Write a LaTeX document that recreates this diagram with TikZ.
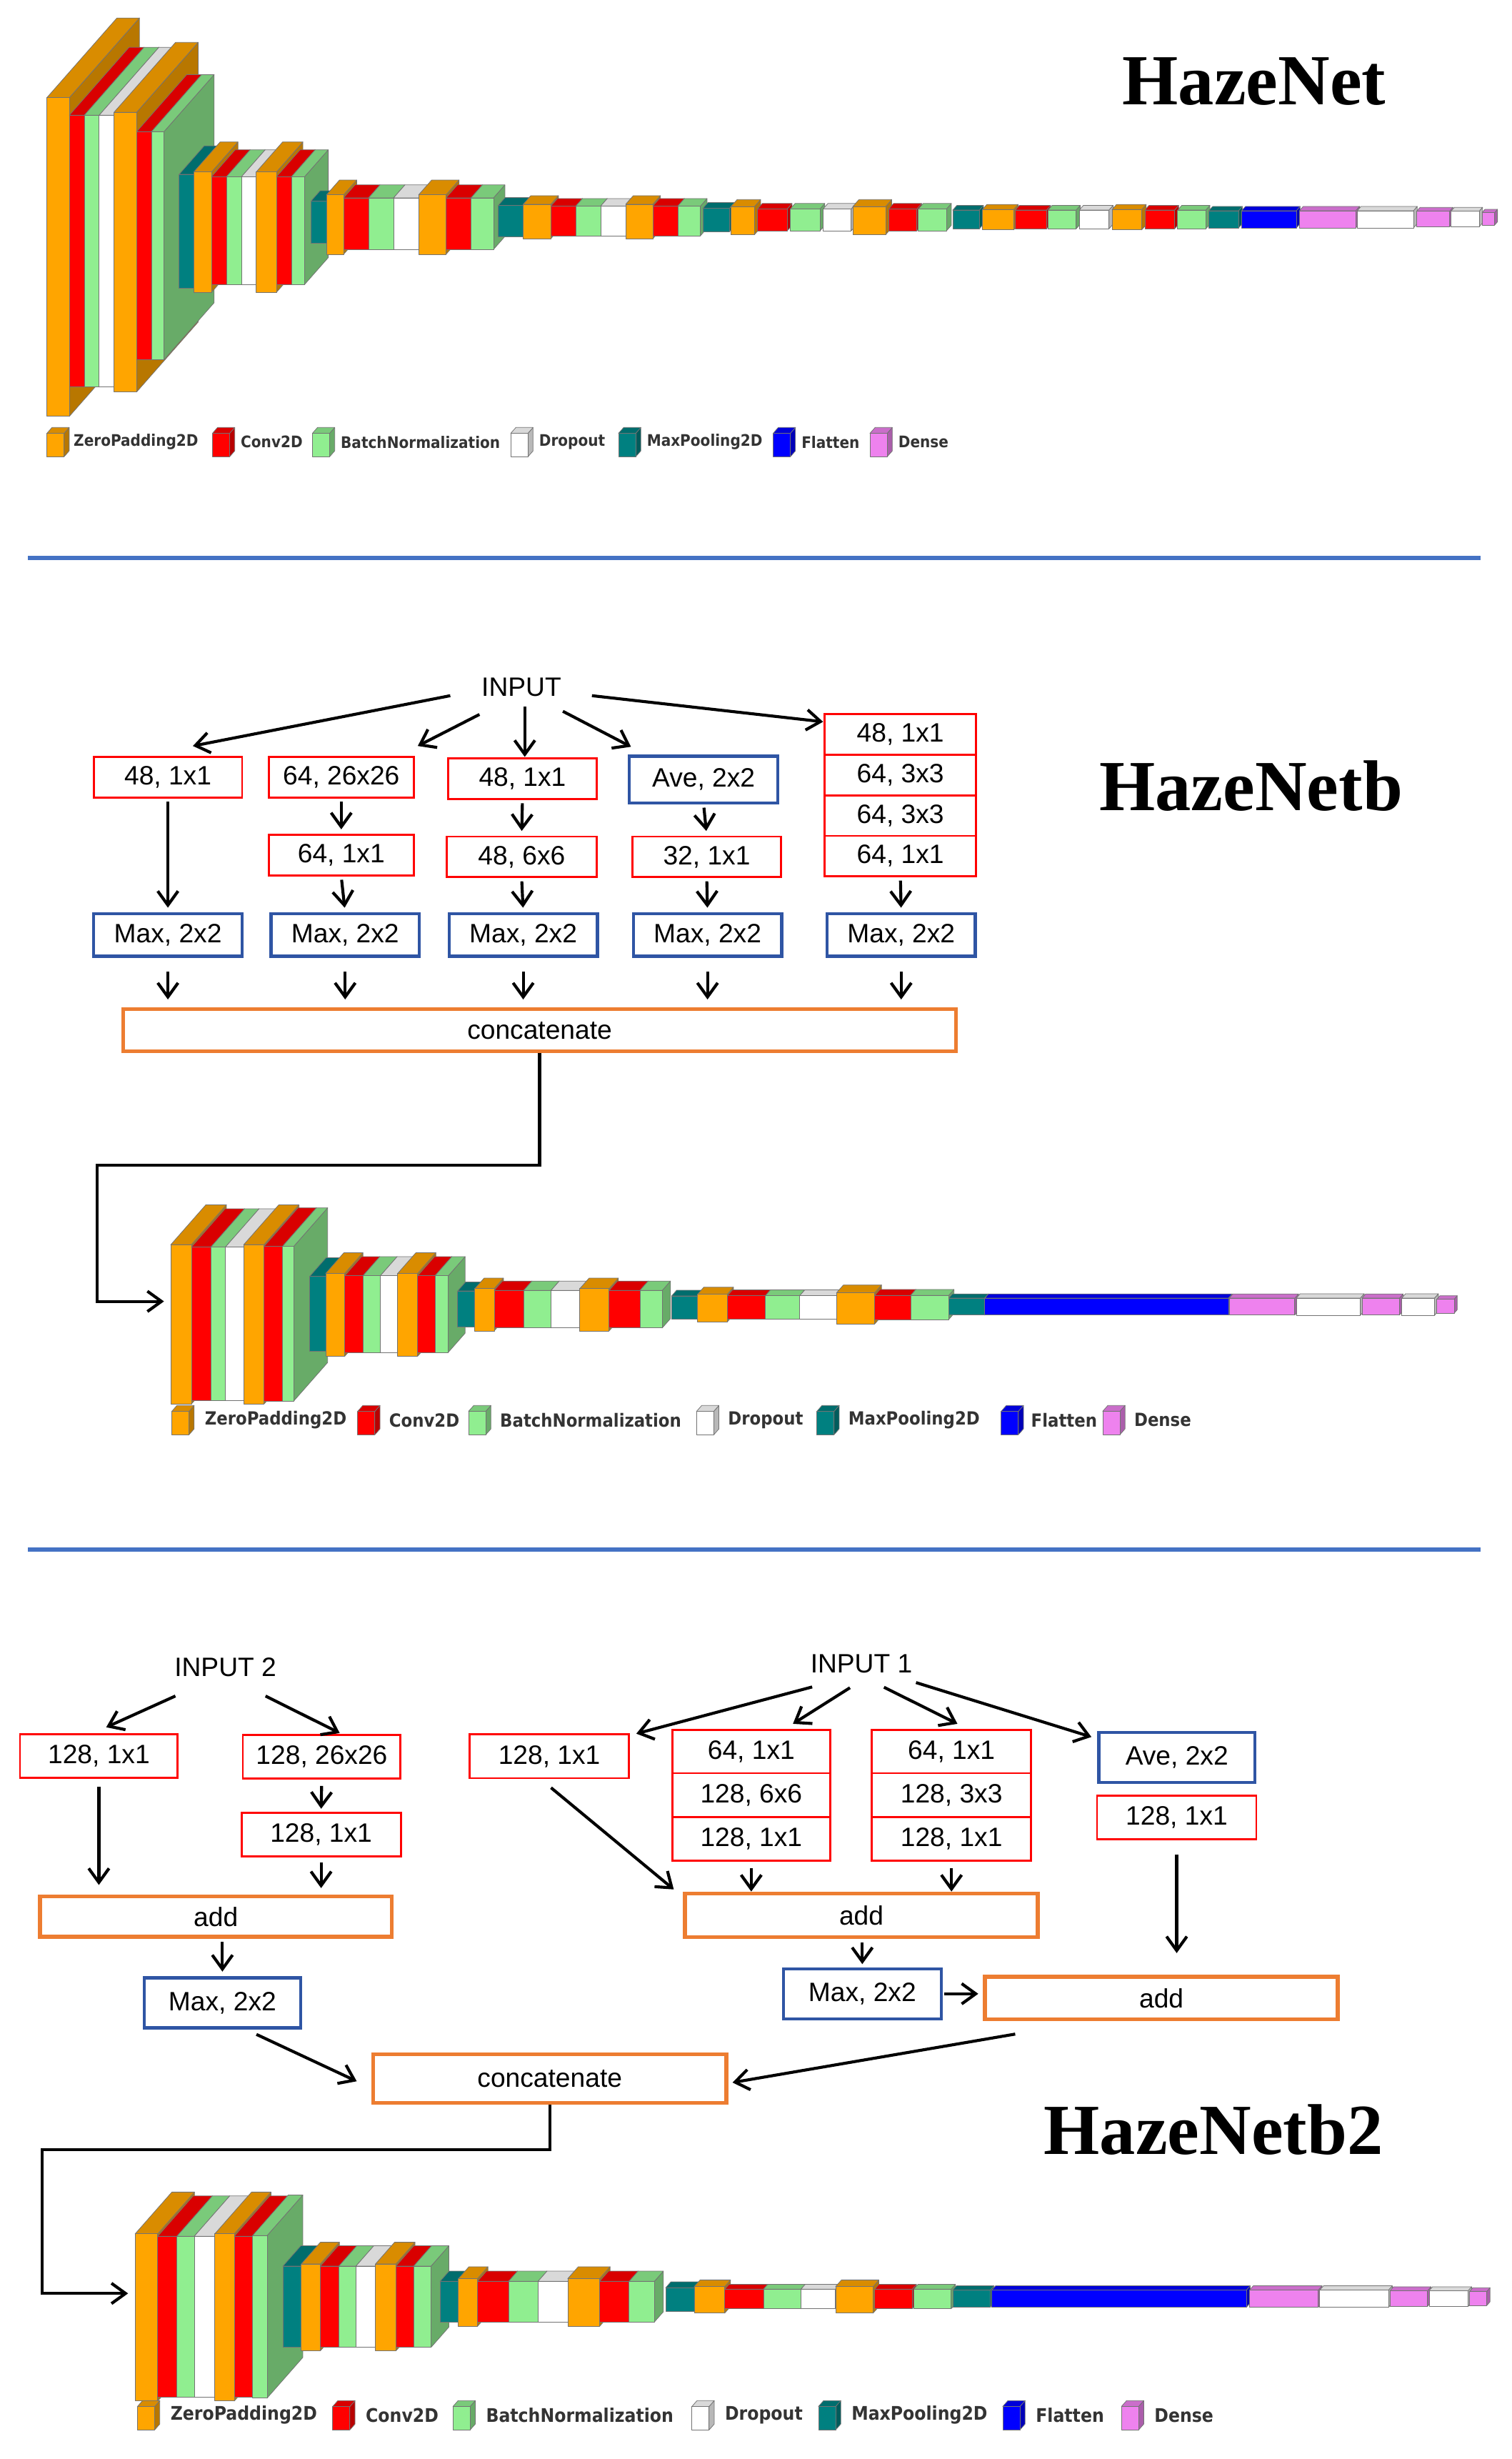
\documentclass[tikz,border=0pt]{standalone}
\usepackage{fontspec}
\setmainfont{Liberation Sans}
\newfontfamily\titf{Liberation Serif}
\newfontfamily\legf{DejaVu Sans Condensed}
\usetikzlibrary{arrows.meta,calc}
\definecolor{zp}{RGB}{255,165,0}
\definecolor{cv}{RGB}{255,0,0}
\definecolor{bn}{RGB}{144,238,144}
\definecolor{dp}{RGB}{255,255,255}
\definecolor{mp}{RGB}{0,128,128}
\definecolor{fl}{RGB}{0,0,255}
\definecolor{de}{RGB}{238,130,238}
\definecolor{sep}{RGB}{68,114,196}
\definecolor{bbx}{RGB}{47,85,164}
\definecolor{obx}{RGB}{237,125,49}
\tikzset{
 lay/.style={draw=black!55,line width=0.35pt,line join=round},
 box/.style={draw,fill=white,inner sep=0pt,font=\fontsize{17}{20}\selectfont,minimum height=26pt},
 rbox/.style={box,draw=red,line width=1.3pt},
 bbox/.style={box,draw=bbx,line width=2pt},
 obox/.style={box,draw=obx,line width=2.5pt},
 arr/.style={-{Straight Barb[length=9pt,width=13pt]},line width=1.9pt},
 title/.style={font=\titf\bfseries\fontsize{46}{50}\selectfont},
 lbl/.style={font=\fontsize{17}{20}\selectfont,inner sep=1pt},
 legt/.style={anchor=west,inner sep=0pt,font=\legf\bfseries\fontsize{#1}{#1}\selectfont,text=black!80},
}
\newcommand\lay[5]{%
 \pgfmathsetmacro\Lyt{#5+0.125*#4-0.5*#4}%
 \pgfmathsetmacro\Lyb{\Lyt+#4}%
 \pgfmathsetmacro\Ldx{0.22*#4}%
 \pgfmathsetmacro\Ldy{-0.25*#4}%
 \pgfmathsetmacro\Lxr{#2+#3}%
 \filldraw[lay,fill=#1!72!black] (\Lxr,\Lyt) -- ++(\Ldx,\Ldy) -- ++(0,#4) -- (\Lxr,\Lyb) -- cycle;
 \filldraw[lay,fill=#1!85!black] (#2,\Lyt) -- ++(\Ldx,\Ldy) -- ++(#3,0) -- (\Lxr,\Lyt) -- cycle;
 \filldraw[lay,fill=#1] (#2,\Lyt) rectangle (\Lxr,\Lyb);}
\newcommand\legend[3]{%
 \foreach \cx/\tx/\cc/\tt in {#3}{%
   \lay{\cc}{\cx}{11}{15}{#1}
   \node[legt=#2] at (\tx,#1) {\tt};}}
\begin{document}
\begin{tikzpicture}[x=1pt,y=-1pt]
\useasboundingbox (0,0) rectangle (968,1574);
\fill[white] (0,0) rectangle (968,1574);

% ===== HazeNet =====
\foreach \c/\x/\w/\h in {zp/30/14.4/204, cv/44.4/9.6/174, bn/54/9.5/174, dp/63.5/9.5/174, zp/73/14.5/179, cv/87.5/9.5/146, bn/97/8/146,
 mp/114.7/9.3/73, zp/124/11.4/77, cv/135.4/9.6/69, bn/145/9.6/69, dp/154.6/9.4/69, zp/164/13/77, cv/177/9.6/69, bn/186.6/8.4/69,
 mp/199/10/27, zp/209/11/38, cv/220/16/33, bn/236/16/33, dp/252/16/33, zp/268/17.6/38, cv/285.6/16/33, bn/301.6/14.4/33,
 mp/319/16/20, zp/335/17.7/22, cv/352.7/16/19, bn/368.7/15.9/19, dp/384.6/16/19, zp/400.6/17.4/22, cv/418/16/19, bn/434/14.5/19,
 mp/450/17/15, zp/468/15/18, cv/485/19/14, bn/506/19/14, dp/527/18/14, zp/546/21/18, cv/569/18/14, bn/588/18/14,
 mp/610/17/12, zp/629/20/13, cv/650/20/12, bn/671/18/12, dp/691/19/12, zp/712/19/13, cv/733/19/12, bn/754/18/12,
 mp/774/19/11, fl/795/35/11, de/832/36/11, dp/869/36/11, de/907/21/10, dp/929/18/10, de/949/8/8}
 {\lay{\c}{\x}{\w}{\h}{139}}
\legend{283}{10.2}{30/47/zp/ZeroPadding2D, 136/154/cv/Conv2D, 200/218/bn/BatchNormalization, 327/345/dp/Dropout, 396/414/mp/MaxPooling2D, 495/513/fl/Flatten, 557/575/de/Dense}
\node[title] (t1) at (803,52) {HazeNet};

\draw[sep,line width=2.6pt] (18,357) -- (948,357);

% ===== HazeNetb =====
\node[lbl] (inp) at (333.8,440) {INPUT};
\node[title] (t2) at (801,503) {HazeNetb};
\node[rbox,minimum width=95pt] (a1) at (107.5,497.5) {48, 1x1};
\node[rbox,minimum width=93pt] (a2) at (218.5,497.5) {64, 26x26};
\node[rbox,minimum width=93pt] (a3) at (218.5,547.5) {64, 1x1};
\node[rbox,minimum width=95pt] (a4) at (334.5,498.5) {48, 1x1};
\node[rbox,minimum width=96pt] (a5) at (334,548.5) {48, 6x6};
\node[bbox,minimum width=95pt,minimum height=30pt] (a6) at (450.5,499) {Ave, 2x2};
\node[rbox,minimum width=95pt] (a7) at (452.5,548.5) {32, 1x1};
\node[rbox,minimum width=97pt] (a8) at (576.5,470) {48, 1x1};
\node[rbox,minimum width=97pt] (a9) at (576.5,496) {64, 3x3};
\node[rbox,minimum width=97pt] (a10) at (576.5,522) {64, 3x3};
\node[rbox,minimum width=97pt] (a11) at (576.5,548) {64, 1x1};
\foreach \n/\x in {m1/107.5,m2/221,m3/335,m4/453,m5/577}
  \node[bbox,minimum width=95pt,minimum height=27pt] (\n) at (\x,598.5) {Max, 2x2};
\node[obox,minimum width=533pt,minimum height=27pt] (cc1) at (345.5,659.5) {concatenate};

\draw[arr] ([shift={(-45.5,5.3)}]inp.center) -- ([shift={(16,-20)}]a1.center);
\draw[arr] ([shift={(-26.8,17.3)}]inp.center) -- ([shift={(49,-20)}]a2.center);
\draw[arr] ([shift={(2.2,12.3)}]inp.center) -- ([shift={(1.5,-14)}]a4.center);
\draw[arr] ([shift={(26.6,15.3)}]inp.center) -- ([shift={(-46.5,-21)}]a6.center);
\draw[arr] ([shift={(45.2,5.3)}]inp.center) -- ([shift={(-49.5,-8)}]a8.center);
\foreach \p/\q in {a1/m1,a2/a3,a3/m2,a4/a5,a5/m3,a6/a7,a7/m4,a11/m5}
  \draw[arr,shorten <=2pt,shorten >=3pt] (\p.south) -- (\q.north);
\foreach \m in {m1,m2,m3,m4,m5}
  \draw[arr,shorten <=9pt,shorten >=5pt] (\m.south) -- (\m.south |- cc1.north);
\coordinate (n2in) at (105,833);
\draw[arr] (cc1.south) -- (345.5,746) -- (62,746) -- (62,833) -- (n2in);

% net 2
\foreach \c/\x/\w/\h in {zp/109.3/13.2/102, cv/122.5/12.5/98, bn/135/9.3/98, dp/144.3/11.7/98, zp/156/13/102, cv/169/11.8/99, bn/180.8/7.2/99,
 mp/198.3/10.2/48, zp/208.5/12.2/53, cv/220.7/11.7/49, bn/232.4/11.1/49, dp/243.5/11.1/49, zp/254.6/12.8/53, cv/267.4/11.1/49, bn/278.5/8.5/49,
 mp/293/11/23, zp/304/12.4/27, cv/316.4/18.9/24, bn/335.3/17.5/24, dp/352.8/18.4/24, zp/371.2/18.8/27, cv/390/19.7/24, bn/409.7/14.3/24,
 mp/430/16.7/14.6, zp/446.7/19/17.7, cv/465.7/24.3/15, bn/490/22/15, dp/512/23.6/15, zp/535.6/24.4/20, cv/560/23/15.4, bn/583/24.4/15.4,
 mp/607.4/23/10.8, fl/630.5/156/10.8, de/787/42/10.8, dp/830/41/11, de/872/24/10.8, dp/897.5/21/11, de/920/11/9}
 {\lay{\c}{\x}{\w}{\h}{835}}
\legend{909}{11.6}{110/131/zp/ZeroPadding2D, 229/249/cv/Conv2D, 300/320/bn/BatchNormalization, 446/466/dp/Dropout, 523/543/mp/MaxPooling2D, 641/660/fl/Flatten, 706/726/de/Dense}

\draw[sep,line width=2.6pt] (18,992) -- (948,992);

% ===== HazeNetb2 =====
\node[title] (t3) at (777,1363) {HazeNetb2};
\node[lbl] (in2) at (144.3,1067) {INPUT 2};
\node[lbl] (in1) at (551.5,1065) {INPUT 1};
\node[rbox,minimum width=101pt,minimum height=28pt] (b1) at (63.3,1124) {128, 1x1};
\node[rbox,minimum width=101pt,minimum height=28pt] (b2) at (206,1124.5) {128, 26x26};
\node[rbox,minimum width=102pt,minimum height=28pt] (b3) at (205.6,1174.4) {128, 1x1};
\node[obox,minimum width=225pt,minimum height=26pt] (ad1) at (138.2,1226.8) {add};
\node[bbox,minimum width=100pt,minimum height=32pt] (mx1) at (142.4,1282) {Max, 2x2};
\node[obox,minimum width=226pt,minimum height=31pt] (cc2) at (352,1330.5) {concatenate};
\node[rbox,minimum width=102pt,minimum height=28pt] (b4) at (351.7,1124.2) {128, 1x1};
\node[rbox,minimum width=101pt,minimum height=28pt] (sa1) at (481,1121.2) {64, 1x1};
\node[rbox,minimum width=101pt,minimum height=28pt] (sa2) at (481,1149) {128, 6x6};
\node[rbox,minimum width=101pt,minimum height=28pt] (sa3) at (481,1177) {128, 1x1};
\node[rbox,minimum width=102pt,minimum height=28pt] (sb1) at (609.2,1121.2) {64, 1x1};
\node[rbox,minimum width=102pt,minimum height=28pt] (sb2) at (609.2,1149) {128, 3x3};
\node[rbox,minimum width=102pt,minimum height=28pt] (sb3) at (609.2,1177) {128, 1x1};
\node[bbox,minimum width=100pt,minimum height=32pt] (av2) at (753.5,1124.9) {Ave, 2x2};
\node[rbox,minimum width=102pt,minimum height=28pt] (b5) at (753.4,1163.4) {128, 1x1};
\node[obox,minimum width=226pt,minimum height=28pt] (ad2) at (551.5,1226) {add};
\node[bbox,minimum width=101pt,minimum height=32pt] (mx2) at (552.1,1276.2) {Max, 2x2};
\node[obox,minimum width=226pt,minimum height=27pt] (ad3) at (743.6,1278.9) {add};

\draw[arr] ([shift={(-32,18.6)}]in2.center) -- ([shift={(4.7,-18.4)}]b1.center);
\draw[arr] ([shift={(25.7,18.6)}]in2.center) -- ([shift={(11.5,-15.2)}]b2.center);
\draw[arr,shorten <=5pt,shorten >=6pt] (b1.south) -- (b1.south |- ad1.north);
\draw[arr,shorten <=4pt,shorten >=2pt] (b2.south) -- (b3.north);
\draw[arr,shorten <=3pt,shorten >=4pt] (b3.south) -- (b3.south |- ad1.north);
\draw[arr,shorten <=2pt,shorten >=3pt] (ad1.south -| mx1.north) -- (mx1.north);
\draw[arr] ([shift={(21.8,20.2)}]mx1.center) -- ([shift={(-123.6,1.7)}]cc2.center);

\draw[arr] ([shift={(-31.5,14.8)}]in1.center) -- ([shift={(55.7,-14.5)}]b4.center);
\draw[arr] ([shift={(-7.3,15.3)}]in1.center) -- ([shift={(26.7,-17.8)}]sa1.center);
\draw[arr] ([shift={(14.5,15)}]in1.center) -- ([shift={(3.8,-17.8)}]sb1.center);
\draw[arr] ([shift={(35,12)}]in1.center) -- ([shift={(-54.7,-13.1)}]av2.center);
\draw[arr] ([shift={(1.1,20.1)}]b4.center) -- ([shift={(-120.1,-16.6)}]ad2.center);
\draw[arr,shorten <=4pt] (sa3.south) -- (sa3.south |- ad2.north);
\draw[arr,shorten <=4pt] (sb3.south) -- (sb3.south |- ad2.north);
\draw[arr,shorten <=9pt,shorten >=14pt] (b5.south) -- (b5.south |- ad3.north);
\draw[arr,shorten <=2pt,shorten >=2pt] (ad2.south -| mx2.north) -- (mx2.north);
\draw[arr,shorten <=1pt,shorten >=3pt] (mx2.east) -- (mx2.east -| ad3.west);
\draw[arr] ([shift={(-93.6,23.1)}]ad3.center) -- ([shift={(117,2.5)}]cc2.center);

\coordinate (n3in) at (82,1468);
\draw[arr] (cc2.south) -- (352,1376) -- (27,1376) -- (27,1468) -- (n3in);

% net 3
\foreach \c/\x/\w/\h in {zp/86.5/14.5/107, cv/101/12.3/103, bn/113.3/11.1/103, dp/124.4/13.1/103, zp/137.5/12.5/107, cv/150/11.7/103, bn/161.7/9.3/104,
 mp/181.2/11.7/52, zp/192.9/12.2/55.6, cv/205.1/11.9/52, bn/217/10.9/52, dp/227.9/12.5/52, zp/240.4/13.1/55.6, cv/253.5/11.4/52, bn/264.9/11.1/52,
 mp/281.8/11.7/26, zp/293.5/12.2/30.5, cv/305.7/19.9/26, bn/325.6/18.9/26, dp/344.5/19/26, zp/363.5/20.4/30.5, cv/383.9/18.9/26, bn/402.8/16.2/26,
 mp/426.2/18.3/15, zp/444.5/19.5/17, cv/464/24.8/12.5, bn/488.8/24/12.5, dp/512.8/22/12.5, zp/535/24/17, cv/560/24/12.5, bn/585/24/12.5,
 mp/610/24/11, fl/635/163/11, de/800/44/11, dp/845/44/11, de/890/24/10, dp/915/25/10, de/941/11/9}
 {\lay{\c}{\x}{\w}{\h}{1470}}
\legend{1546}{12}{88/109/zp/ZeroPadding2D, 213/234/cv/Conv2D, 290/311/bn/BatchNormalization, 443/464/dp/Dropout, 524/545/mp/MaxPooling2D, 642/663/fl/Flatten, 718/739/de/Dense}
\end{tikzpicture}
\end{document}
